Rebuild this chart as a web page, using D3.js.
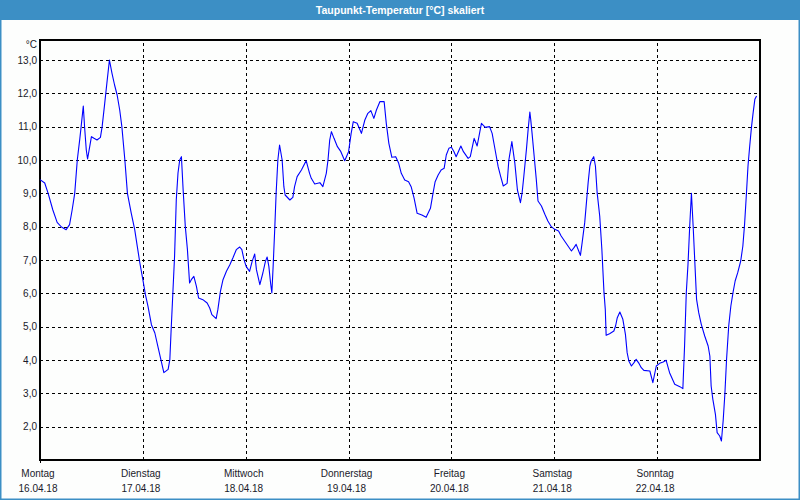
<!DOCTYPE html>
<html>
<head>
<meta charset="utf-8">
<script src="https://cdn.jsdelivr.net/npm/d3@7/dist/d3.min.js"></script>
<style>
  html, body { margin: 0; padding: 0; background: #ffffff; }
  svg { display: block; }
</style>
</head>
<body>
<svg id="chart" width="800" height="500"></svg>
<script>
// ---- data ----
const title = "Taupunkt-Temperatur [°C] skaliert";
const unitLabel = "°C";
const dayNames = ["Montag", "Dienstag", "Mittwoch", "Donnerstag", "Freitag", "Samstag", "Sonntag"];
const dayDates = ["16.04.18", "17.04.18", "18.04.18", "19.04.18", "20.04.18", "21.04.18", "22.04.18"];
const yTicks = [2, 3, 4, 5, 6, 7, 8, 9, 10, 11, 12, 13];
// hours since Monday 16.04.18 00:00
const hours = [
  0, 1.1, 1.9, 3.0, 4.0, 5.0, 6.1, 6.9, 7.5, 8.1, 8.7, 9.3, 9.6, 10.1, 10.4, 10.8, 11.1, 11.6, 12.0, 12.6,
  13.3, 14.1, 14.5, 15.1, 15.6, 16.2, 16.8, 17.4, 18.0, 18.6, 19.1, 19.8, 20.4, 21.3, 22.1, 22.7, 23.3, 24.0,
  24.6, 25.2, 26.0, 26.8, 27.5, 28.3, 28.9, 29.9, 30.3, 30.6, 31.0, 31.4, 31.8, 32.2, 32.6, 33.0, 33.4, 33.9,
  34.4, 34.9, 35.3, 35.9, 36.5, 37.0, 38.0, 39.0, 39.6, 40.1, 41.1, 41.5, 42.1, 42.7, 43.5, 44.3, 45.0, 45.8,
  46.6, 47.1, 47.6, 48.1, 48.9, 49.5, 50.1, 50.5, 51.3, 52.0, 52.6, 53.0, 53.4, 53.8, 54.1, 54.4, 54.8, 55.1,
  55.5, 55.9, 56.5, 56.9, 57.2, 58.3, 59.0, 59.4, 60.0, 61.0, 62.1, 62.9, 63.3, 64.1, 65.3, 66.0, 66.8, 67.2,
  67.6, 68.0, 68.6, 69.4, 70.2, 71.1, 72.0, 72.6, 73.1, 74.0, 75.0, 75.8, 76.5, 77.2, 77.9, 78.5, 79.3, 80.3,
  80.8, 81.4, 82.1, 83.0, 83.7, 84.3, 85.1, 86.0, 86.6, 87.3, 88.0, 89.1, 90.1, 91.1, 91.7, 92.2, 92.9, 93.6,
  94.3, 94.8, 95.4, 96.0, 96.6, 97.1, 98.2, 98.8, 99.9, 100.4, 101.3, 102.0, 103.0, 103.9, 104.9, 105.5, 106.2,
  106.9, 107.5, 108.1, 109.0, 109.4, 110.1, 110.8, 111.4, 112.1, 112.5, 112.9, 113.5, 113.9, 114.3, 114.5,
  114.8, 115.3, 115.8, 116.2, 117.0, 117.8, 118.5, 119.3, 120.1, 121.0, 121.6, 122.4, 123.2, 124.0, 124.6,
  125.1, 125.7, 126.1, 126.5, 127.1, 127.5, 127.9, 128.3, 128.6, 129.2, 129.6, 130.0, 130.6, 131.1, 131.6,
  131.9, 132.1, 132.9, 133.9, 134.3, 134.7, 135.3, 136.0, 136.6, 137.0, 137.4, 138.0, 138.6, 139.1, 139.8,
  140.3, 140.9, 142.3, 143.0, 143.8, 144.6, 145.4, 146.1, 146.9, 148.1, 149.3, 150.0, 150.4, 150.8, 151.2,
  151.6, 152.0, 152.4, 152.8, 153.2, 153.7, 154.3, 155.1, 155.9, 156.3, 156.6, 157.0, 157.6, 158.0, 158.6,
  159.0, 159.4, 159.8, 160.2, 160.7, 161.2, 161.7, 162.2, 162.8, 163.5, 164.0, 164.4, 164.8, 165.2, 165.6,
  166.0, 166.4, 166.8, 167.2
];
const dewPoint = [
  9.41, 9.31, 9.0, 8.5, 8.13, 7.99, 7.91, 8.06, 8.5, 9.0, 10.0, 10.65, 11.0, 11.62, 11.0, 10.3, 10.03, 10.4, 10.7, 10.65,
  10.6, 10.68, 11.0, 11.7, 12.3, 13.0, 12.6, 12.25, 11.95, 11.5, 11.0, 10.0, 9.0, 8.4, 7.91, 7.41, 6.91, 6.41,
  5.96, 5.61, 5.06, 4.81, 4.41, 3.96, 3.62, 3.72, 4.02, 4.91, 6.01, 7.11, 8.81, 9.61, 10.0, 10.1, 9.1, 8.01,
  7.31, 6.31, 6.41, 6.51, 6.21, 5.86, 5.81, 5.71, 5.56, 5.36, 5.24, 5.51, 6.06, 6.41, 6.66, 6.86, 7.06, 7.31,
  7.39, 7.31, 7.01, 6.81, 6.66, 6.96, 7.18, 6.71, 6.26, 6.61, 6.96, 7.09, 6.81, 6.31, 6.01, 6.81, 8.01, 9.01,
  10.0, 10.45, 10.0, 9.2, 8.95, 8.8, 8.88, 9.2, 9.5, 9.7, 9.98, 9.6, 9.45, 9.28, 9.32, 9.2, 9.6, 10.0,
  10.6, 10.85, 10.65, 10.4, 10.25, 9.98, 10.25, 10.8, 11.15, 11.1, 10.8, 11.2, 11.4, 11.48, 11.25, 11.5, 11.75, 11.75,
  11.1, 10.5, 10.08, 10.1, 9.9, 9.6, 9.4, 9.35, 9.2, 8.85, 8.4, 8.35, 8.28, 8.55, 9.0, 9.35, 9.55, 9.7,
  9.75, 10.15, 10.35, 10.38, 10.25, 10.1, 10.42, 10.25, 10.05, 10.1, 10.65, 10.42, 11.1, 10.98, 11.0, 10.8, 10.3,
  9.8, 9.5, 9.22, 9.3, 10.0, 10.55, 9.9, 9.1, 8.72, 9.02, 9.52, 10.32, 10.92, 11.44, 11.22,
  10.82, 10.12, 9.42, 8.77, 8.62, 8.37, 8.17, 8.0, 7.92, 7.87, 7.72, 7.57, 7.42, 7.27, 7.37,
  7.47, 7.27, 7.14, 7.52, 8.12, 8.72, 9.32, 9.82, 9.97, 10.1, 9.82, 9.02, 8.32, 7.32, 6.02,
  5.52, 4.74, 4.79, 4.87, 5.02, 5.27, 5.44, 5.22, 4.77, 4.22, 3.97, 3.82, 3.92, 4.02, 3.89,
  3.77, 3.69, 3.67, 3.32, 3.82, 3.9, 3.94, 3.99, 3.62, 3.27, 3.2, 3.14, 4.42, 6.02, 6.87,
  8.02, 9.0, 8.02, 6.92, 5.82, 5.42, 5.07, 4.72, 4.42, 4.12, 3.22, 2.82, 2.37, 1.82, 1.72,
  1.57, 2.17, 2.97, 4.02, 5.02, 5.62, 6.02, 6.37, 6.62, 6.97, 7.42, 8.07, 8.92, 9.82, 10.42,
  10.97, 11.42, 11.82, 11.92
];

// ---- layout ----
const W = 800, H = 500;
const mLeft = 40, mRight = 760, mTop = 40, mBottom = 460;
const frameColor = "#3c8fc5";
const font = "'Liberation Sans', Arial, sans-serif";

const svg = d3.select("#chart");

const x = d3.scaleLinear().domain([0, 168]).range([mLeft, mRight]);
const y = d3.scaleLinear().domain([1, 13.6]).range([mBottom, mTop]);

// background
svg.append("rect").attr("x", 0).attr("y", 0).attr("width", W).attr("height", H).attr("fill", "#fdfefd");

// title bar
svg.append("rect").attr("x", 0).attr("y", 0).attr("width", W).attr("height", 20).attr("fill", frameColor);
svg.append("text")
  .attr("x", W / 2).attr("y", 14)
  .attr("text-anchor", "middle")
  .attr("fill", "#ffffff")
  .style("font-family", font)
  .style("font-size", "10.5px")
  .style("font-weight", "bold")
  .text(title);

// outer frame
svg.append("rect").attr("x", 0.75).attr("y", 0.75).attr("width", W - 1.5).attr("height", H - 1.5)
  .attr("fill", "none").attr("stroke", frameColor).attr("stroke-width", 1.5);

// horizontal dashed grid
const gY = svg.append("g").attr("transform", `translate(${mLeft},0)`)
  .call(d3.axisLeft(y).tickValues(yTicks).tickSize(-(mRight - mLeft)).tickFormat(""));
gY.select(".domain").remove();
gY.selectAll(".tick line").attr("stroke", "#000").attr("stroke-width", 1).attr("stroke-dasharray", "3,3")
  .attr("shape-rendering", "crispEdges");

// vertical dashed grid at day boundaries
const dayHours = dayNames.map((d, i) => i * 24);
const gX = svg.append("g").attr("transform", `translate(0,${mBottom})`)
  .call(d3.axisBottom(x).tickValues(dayHours.slice(1)).tickSize(-(mBottom - mTop)).tickFormat(""));
gX.select(".domain").remove();
gX.selectAll(".tick line").attr("stroke", "#000").attr("stroke-width", 1).attr("stroke-dasharray", "3,3")
  .attr("shape-rendering", "crispEdges");

// y tick labels
const yl = svg.append("g").attr("transform", `translate(${mLeft},0)`)
  .call(d3.axisLeft(y).tickValues(yTicks).tickSize(0).tickPadding(3)
    .tickFormat(d => d3.format(".1f")(d).replace(".", ",")));
yl.select(".domain").remove();
yl.selectAll("text").attr("fill", "#1a1a2a").style("font-family", font).style("font-size", "10px");

// unit label
svg.append("text").attr("x", mLeft - 3).attr("y", 48).attr("text-anchor", "end")
  .attr("fill", "#1a1a2a").style("font-family", font).style("font-size", "10px").text(unitLabel);

// x labels (day names + dates)
const xl = svg.append("g");
dayHours.forEach((h, i) => {
  xl.append("text").attr("x", x(h) - 2).attr("y", 477).attr("text-anchor", "middle")
    .attr("fill", "#1a1a2a").style("font-family", font).style("font-size", "10px").text(dayNames[i]);
  xl.append("text").attr("x", x(h) - 2).attr("y", 492).attr("text-anchor", "middle")
    .attr("fill", "#1a1a2a").style("font-family", font).style("font-size", "10px").text(dayDates[i]);
});

// plot box
svg.append("rect").attr("x", mLeft).attr("y", mTop).attr("width", mRight - mLeft).attr("height", mBottom - mTop)
  .attr("fill", "none").attr("stroke", "#000").attr("stroke-width", 1.2).attr("shape-rendering", "crispEdges");
svg.append("line").attr("x1", mLeft).attr("x2", mLeft).attr("y1", mBottom).attr("y2", mBottom + 3)
  .attr("stroke", "#000").attr("stroke-width", 1).attr("shape-rendering", "crispEdges");

// data line
const data = hours.map((h, i) => ({ h, v: dewPoint[i] }));
const line = d3.line().x(d => x(d.h)).y(d => y(d.v));
svg.append("path").datum(data).attr("d", line)
  .attr("fill", "none").attr("stroke", "#0000ff").attr("stroke-width", 1.1).attr("stroke-linejoin", "round");
</script>
</body>
</html>
